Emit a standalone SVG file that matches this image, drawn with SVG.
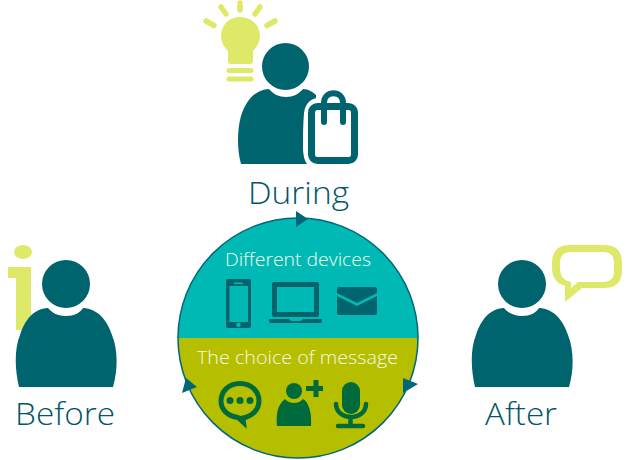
<svg xmlns="http://www.w3.org/2000/svg" width="630" height="460" viewBox="0 0 630 460">
<style>
.teal{fill:#00646f}
.lime{fill:#dfe969}
.limes{fill:none;stroke:#dfe969;stroke-linecap:round}
.dev{fill:#00646f}
.grn{fill:#006b3a}
.grns{fill:none;stroke:#006b3a}
.lbl{font-family:"Open Sans",Lato,sans-serif;font-weight:300;fill:#00566a;font-size:32px}
.in{font-family:"Open Sans",Lato,sans-serif;font-weight:300;fill:#f6f9e6;font-size:17.500px}
</style>
<defs>
<path id="body" d="M19,387C15,370 14,350 20,335C25,320 33,309 48,308C52,313 58,316 66,316C74,316 80,313 83,308C98,309 107,320 112,335C118,350 118,370 113,387Z"/>
</defs>
<rect width="630" height="460" fill="#fff"/>
<g id="during">
<g id="bulb">
<path class="lime" d="M240,17C229,17 221,25 221,36C221,42 224,47 228,51V61Q228,64 231,64H250Q253,64 253,61V51C257,47 260,42 260,36C260,25 251,17 240,17Z"/>
<path class="limes" stroke-width="5" d="M229,70.500H251M229,79H251"/>
<path class="limes" stroke-width="5.500" d="M240,3V10M221,7L226,14M260,7L255,14M206,21L214,25.500M275,21L267,25.500"/>
</g>
<circle class="teal" cx="285.500" cy="66.500" r="23.500"/>
<path class="teal" d="M241,164C237,150 237,130 241,116C246,100 255,90 269,89C273,94 279,97 286,97C293,97 299,94 303,89C308,89 313,92 316,95L316,98C309,100 305,105 304,113C303,125 303,135 303,147C303,153 304,160 307,164Z"/>
<g fill="none" stroke="#00646f" stroke-linecap="round">
<rect x="311.500" y="106.500" width="43" height="54" rx="6" stroke-width="7"/>
<path stroke-width="6" d="M324,122V103C324,90 343,90 343,103V122"/>
</g>
<text class="lbl" x="248" y="204" textLength="101" lengthAdjust="spacingAndGlyphs">During</text>
</g>
<g id="before">
<path class="lime" d="M8,267H31V330H16V278H8Z"/>
<ellipse class="lime" cx="23" cy="252" rx="9" ry="7"/>
<circle class="teal" cx="66" cy="284" r="24"/>
<use href="#body" class="teal"/>
<text class="lbl" x="15" y="425" textLength="100" lengthAdjust="spacingAndGlyphs">Before</text>
</g>
<g id="after">
<circle class="teal" cx="522" cy="284" r="24"/>
<use href="#body" class="teal" x="456"/>
<path class="lime" fill-rule="evenodd" d="M570,245H604Q622,245 622,263V270Q622,288 604,288H582L565,302V286Q552,282 552,268V263Q552,245 570,245ZM571,252Q560,252 560,263V268Q560,280 571,282V288L578,282H603Q614,282 614,271V263Q614,252 603,252Z"/>
<text class="lbl" x="485" y="425" textLength="72" lengthAdjust="spacingAndGlyphs">After</text>
</g>
<g id="cycle">
<path d="M178,338A120,120 0 0 1 418,338Z" fill="#00b9b5"/>
<path d="M178,338A120,120 0 0 0 418,338Z" fill="#b5bf00"/>
<circle cx="298" cy="338" r="120" fill="none" stroke="#00667a" stroke-width="1.500"/>
</g>
<g id="connectors" fill="#00667a">
<path d="M296,211L308,219L296,227Z"/>
<path d="M403,378L418,384L403,393Z"/>
<path d="M182,393L197,387L186,378Z"/>
</g>
<g id="devices">
<text class="in" x="225" y="266" textLength="146" lengthAdjust="spacingAndGlyphs">Different devices</text>
<path class="dev" fill-rule="evenodd" d="M228,279H249Q251,279 251,281V326Q251,328 249,328H228Q226,328 226,326V281Q226,279 228,279ZM229.500,286V322H248V286ZM234,282.500V284H243V282.500ZM238.500,322.700a2.200,2.200 0 1 0 .01,0Z"/>
<path class="dev" fill-rule="evenodd" d="M274,282H317Q319,282 319,284V315Q319,317 317,317H274Q272,317 272,315V284Q272,282 274,282ZM277,287V312H314V287Z"/>
<path class="dev" d="M269,319H289Q290,321 292,321H300Q302,321 303,319H322V321Q322,323 320,323H271Q269,323 269,321Z"/>
<path class="dev" d="M339,287H375Q377,287 377,289V293L357,303L337,293V289Q337,287 339,287ZM337,296L357,306L377,296V313Q377,315 375,315H339Q337,315 337,313Z"/>
</g>
<g id="messages">
<text class="in" x="197" y="364" textLength="201" lengthAdjust="spacingAndGlyphs">The choice of message</text>
<path class="grns" stroke-width="5" d="M240,383.500C228,383.500 221,392 221,401C221,410 228,416 238,417.500L243.500,422.500L243,418C253,416 259,409 259,401C259,392 252,383.500 240,383.500Z"/>
<circle class="grn" cx="230" cy="400.500" r="3.500"/><circle class="grn" cx="240" cy="400.500" r="3.500"/><circle class="grn" cx="250" cy="400.500" r="3.500"/>
<circle class="grn" cx="294" cy="391" r="8"/>
<path class="grn" d="M277,426C276,415 277,405 285,399C288,402 291,403 294,403C297,403 300,402 303,399C309,402 312,414 311,426Z"/>
<path class="grns" stroke-width="5" d="M316,380V397M306,388.500H323"/>
<rect class="grn" x="342" y="382" width="18" height="32" rx="9"/>
<path class="grns" stroke-width="4.500" stroke-linecap="round" d="M336,404C336,412 343,417 351,417C359,417 366,412 366,404M350.500,417V426M338,426H363"/>
</g>
</svg>
